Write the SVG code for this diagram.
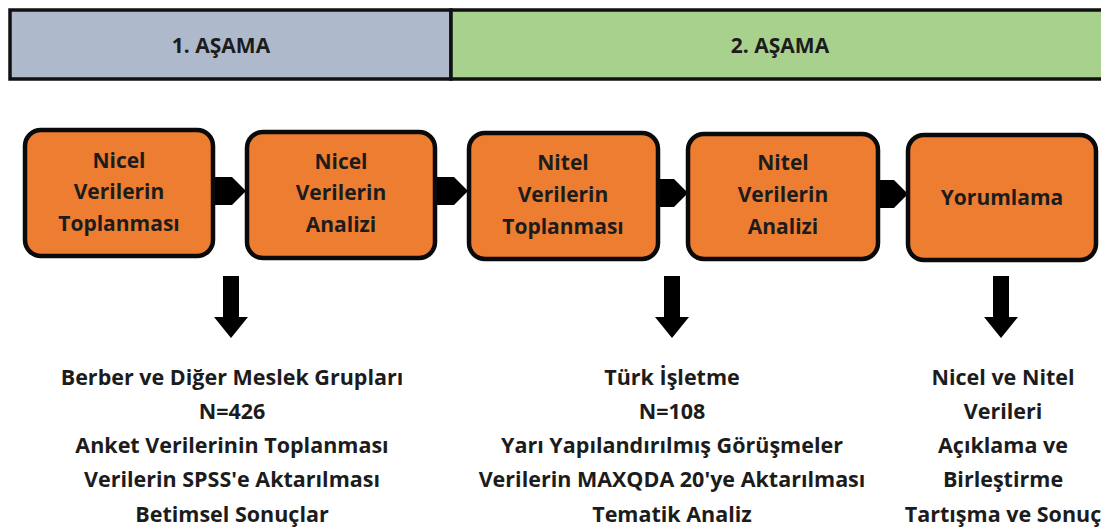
<svg xmlns="http://www.w3.org/2000/svg" width="1101" height="527" viewBox="0 0 1101 527">
<style>
.hdr{stroke:#111;stroke-width:3.5}
.box{fill:#ed7d31;stroke:#0a0a0a;stroke-width:4.5}
.t{font-family:"Open Sans","Liberation Sans",sans-serif;font-weight:700;fill:#1c1c1c;text-anchor:middle}
.ht{font-size:21px}
.bt{font-size:21px}
.lt{font-size:21.5px}
.conn{fill:#000}
</style>
<rect width="1101" height="527" fill="#fff"/>
<g id="header">
<rect x="10" y="10" width="441" height="69" fill="#aebacb" class="hdr"/>
<rect x="451" y="10" width="660" height="69" fill="#a9d18e" class="hdr"/>
<text x="221" y="53" class="t ht">1. AŞAMA</text>
<text x="780" y="53" class="t ht">2. AŞAMA</text>
</g>
<g id="connectors">
<polygon class="conn" points="213,177 232,177 246,191 232,205 213,205"/>
<polygon class="conn" points="435,177 454,177 468,191 454,205 435,205"/>
<polygon class="conn" points="657,179 674,179 688,193 674,207 657,207"/>
<polygon class="conn" points="878,180 894,180 908,194 894,208 878,208"/>
<polygon class="conn" points="223,276 239,276 239,317 248,317 231,338 214,317 223,317"/>
<polygon class="conn" points="664,276 680,276 680,317 689,317 672,338 655,317 664,317"/>
<polygon class="conn" points="993,276 1009,276 1009,317 1018,317 1001,338 984,317 993,317"/>
</g>
<g id="n1">
<rect class="box" x="25" y="130" width="188" height="126" rx="16"/>
<text class="t bt" x="119" y="168">Nicel</text>
<text class="t bt" x="119" y="199">Verilerin</text>
<text class="t bt" x="119" y="231">Toplanması</text>
</g>
<g id="n2">
<rect class="box" x="247" y="132" width="188" height="126" rx="16"/>
<text class="t bt" x="341" y="169">Nicel</text>
<text class="t bt" x="341" y="200">Verilerin</text>
<text class="t bt" x="341" y="232">Analizi</text>
</g>
<g id="n3">
<rect class="box" x="469" y="133" width="189" height="126" rx="16"/>
<text class="t bt" x="563" y="170">Nitel</text>
<text class="t bt" x="563" y="202">Verilerin</text>
<text class="t bt" x="563" y="234">Toplanması</text>
</g>
<g id="n4">
<rect class="box" x="688" y="134" width="190" height="125" rx="16"/>
<text class="t bt" x="783" y="170">Nitel</text>
<text class="t bt" x="783" y="202">Verilerin</text>
<text class="t bt" x="783" y="234">Analizi</text>
</g>
<g id="n5">
<rect class="box" x="908" y="135" width="188" height="125" rx="16"/>
<text class="t bt" x="1002" y="205">Yorumlama</text>
</g>
<g id="d1">
<text class="t lt" x="232" y="385">Berber ve Diğer Meslek Grupları</text>
<text class="t lt" x="232" y="419">N=426</text>
<text class="t lt" x="232" y="453">Anket Verilerinin Toplanması</text>
<text class="t lt" x="232" y="487">Verilerin SPSS'e Aktarılması</text>
<text class="t lt" x="232" y="522">Betimsel Sonuçlar</text>
</g>
<g id="d2">
<text class="t lt" x="672" y="385">Türk İşletme</text>
<text class="t lt" x="672" y="419">N=108</text>
<text class="t lt" x="672" y="453">Yarı Yapılandırılmış Görüşmeler</text>
<text class="t lt" x="672" y="487">Verilerin MAXQDA 20'ye Aktarılması</text>
<text class="t lt" x="672" y="522">Tematik Analiz</text>
</g>
<g id="d3">
<text class="t lt" x="1003" y="385">Nicel ve Nitel</text>
<text class="t lt" x="1003" y="419">Verileri</text>
<text class="t lt" x="1003" y="453">Açıklama ve</text>
<text class="t lt" x="1003" y="487">Birleştirme</text>
<text class="t lt" x="1003" y="522">Tartışma ve Sonuç</text>
</g>
</svg>
